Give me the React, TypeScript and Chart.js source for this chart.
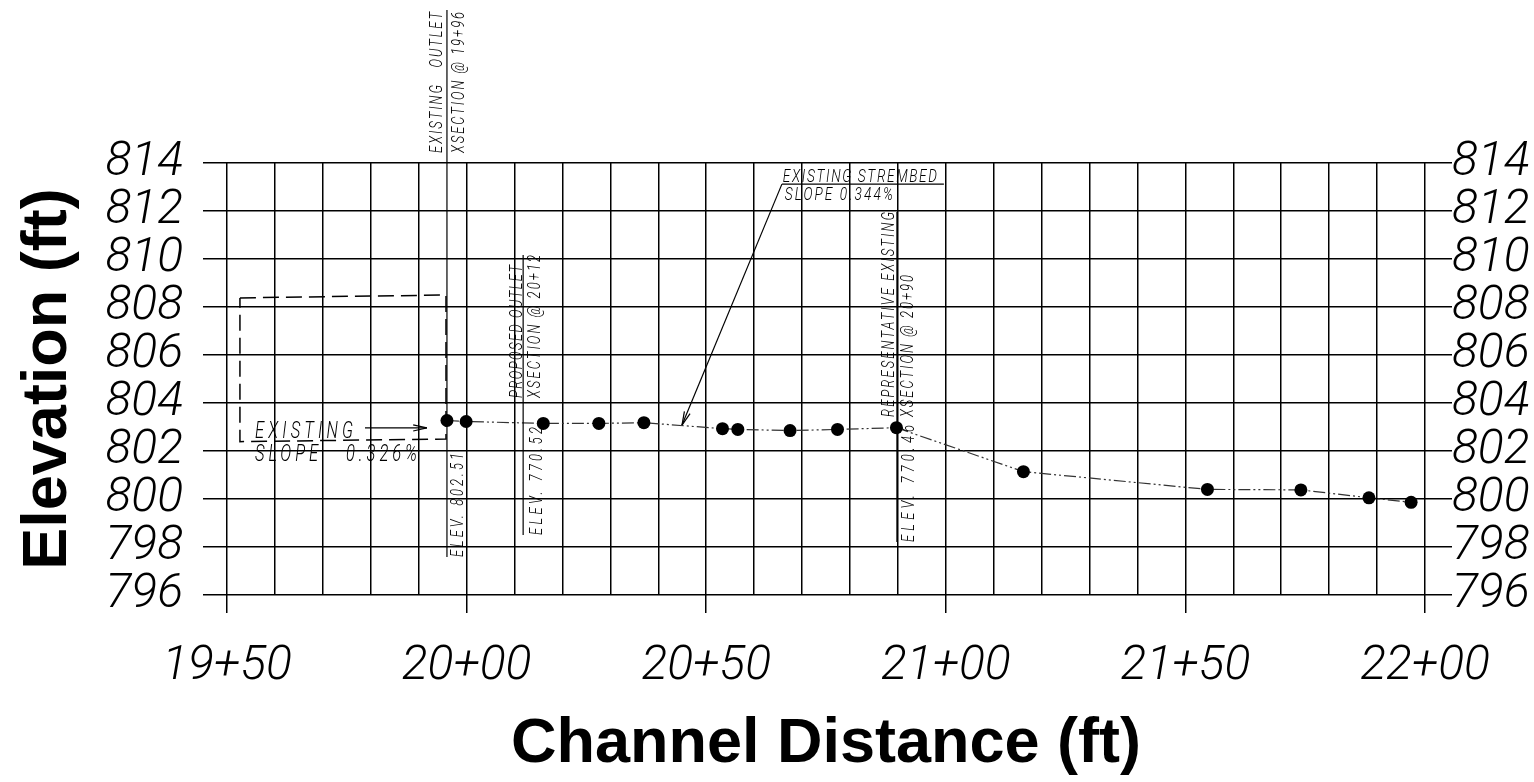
import { useEffect, useRef } from "react";
import { Chart, registerables } from "chart.js";

Chart.register(...registerables);

// ---- data (stations in ft, elevations in ft) ----
const stations = [1995.9, 1999.9, 2016.0, 2027.6, 2037.0, 2053.4, 2056.6, 2067.5, 2077.4, 2089.7, 2116.2, 2154.6, 2174.1, 2188.3, 2197.1];
const elevations = [803.27, 803.23, 803.15, 803.15, 803.18, 802.93, 802.9, 802.85, 802.9, 802.97, 801.14, 800.4, 800.38, 800.05, 799.86];

const boxStations = [1952.7, 1995.7, 1995.7, 1952.7, 1952.7];
const boxElevations = [808.38, 808.5, 802.5, 802.39, 808.38];

const xTickValues = [1950, 2000, 2050, 2100, 2150, 2200];
const xTickLabels = ["19+50", "20+00", "20+50", "21+00", "21+50", "22+00"];
const yTickValues = [796, 798, 800, 802, 804, 806, 808, 810, 812, 814];
const yTickLabels = ["796", "798", "800", "802", "804", "806", "808", "810", "812", "814"];

// ---- annotation callouts (anchored in data units) ----
const sectionCallouts = [
  { station: 1995.9, top: 820.38, bottom: 797.58, textFrom: 814.42, left: "EXISTING   OUTLET", leftLen: 141, leftDx: -5, right: "XSECTION @ 19+96", rightLen: 141, rightDx: 17, elev: "ELEV. 802.51", elevLen: 104, elevDx: 16 },
  { station: 2011.8, top: 810.17, bottom: 798.5, textFrom: 804.21, left: "PROPOSED OUTLET", leftLen: 133, leftDx: -1, right: "XSECTION @ 20+12", rightLen: 143, rightDx: 17, elev: "ELEV. 770.52", elevLen: 108, elevDx: 19 },
  { station: 2089.8, top: 811.96, bottom: 798.21, textFrom: 803.42, left: "REPRESENTATIVE EXISTING", leftLen: 205, leftDx: -3, right: "XSECTION @ 20+90", rightLen: 142, rightDx: 16, elev: "ELEV. 770.46", elevLen: 117, elevDx: 17 },
];

const strembedNote = {
  line1: "EXISTING STREMBED", line1X: 2066.0, line1Y: 813.21, line1Len: 154,
  line2: "SLOPE 0.344%", line2X: 2066.4, line2Y: 812.46, line2Len: 108,
  underFrom: 2065.8, underTo: 2099.6, underY: 813.12,
  tipX: 2044.95, tipY: 803.08,
};

const slopeNote = {
  line1: "EXISTING", line1Len: 98, textX: 1955.84, line1Y: 802.54,
  line2: "SLOPE   0.326%", line2Len: 162, line2Y: 801.58,
  arrowFrom: 1978.8, arrowTo: 1991.7, arrowY: 802.96,
};

const NARROW = 0.72;

function cadText(ctx: CanvasRenderingContext2D, text: string, x: number, y: number, size: number, len: number, rotate: boolean) {
  ctx.save();
  ctx.translate(x, y);
  if (rotate) ctx.rotate(-Math.PI / 2);
  ctx.scale(NARROW, 1);
  ctx.font = `italic 300 ${size}px Roboto, "DejaVu Sans", sans-serif`;
  (ctx as any).letterSpacing = "0px";
  const w = ctx.measureText(text).width;
  const n = Math.max(1, text.length - 1);
  const ls = (len / NARROW - w) / n;
  (ctx as any).letterSpacing = `${ls}px`;
  ctx.textAlign = "left";
  ctx.textBaseline = "alphabetic";
  ctx.fillStyle = "#000";
  ctx.fillText(text, 0, 0);
  ctx.restore();
}

function seg(ctx: CanvasRenderingContext2D, x1: number, y1: number, x2: number, y2: number) {
  ctx.beginPath();
  ctx.moveTo(x1, y1);
  ctx.lineTo(x2, y2);
  ctx.stroke();
}

function arrowHead(ctx: CanvasRenderingContext2D, fx: number, fy: number, tx: number, ty: number, size: number) {
  const a = Math.atan2(ty - fy, tx - fx);
  const spread = 0.22;
  seg(ctx, tx, ty, tx - size * Math.cos(a - spread), ty - size * Math.sin(a - spread));
  seg(ctx, tx, ty, tx - size * Math.cos(a + spread), ty - size * Math.sin(a + spread));
}

const notesPlugin = {
  id: "cadNotes",
  afterDatasetsDraw(chart: any) {
    const ctx: CanvasRenderingContext2D = chart.ctx;
    const xs = chart.scales.x;
    const ys = chart.scales.y;
    const X = (v: number) => xs.getPixelForValue(v);
    const Y = (v: number) => ys.getPixelForValue(v);
    ctx.save();
    ctx.strokeStyle = "#000";
    ctx.lineWidth = 1.2;
    for (const c of sectionCallouts) {
      const x = X(c.station);
      seg(ctx, x, Y(c.top), x, Y(c.bottom));
      cadText(ctx, c.left, x + c.leftDx, Y(c.textFrom), 18, c.leftLen, true);
      cadText(ctx, c.right, x + c.rightDx, Y(c.textFrom), 18, c.rightLen, true);
      cadText(ctx, c.elev, x + c.elevDx, Y(c.bottom), 18, c.elevLen, true);
    }
    // streambed note
    const s = strembedNote;
    cadText(ctx, s.line1, X(s.line1X), Y(s.line1Y), 19, s.line1Len, false);
    cadText(ctx, s.line2, X(s.line2X), Y(s.line2Y), 19, s.line2Len, false);
    seg(ctx, X(s.underFrom), Y(s.underY), X(s.underTo), Y(s.underY));
    seg(ctx, X(s.underFrom), Y(s.underY), X(s.tipX), Y(s.tipY));
    arrowHead(ctx, X(s.underFrom), Y(s.underY), X(s.tipX), Y(s.tipY), 14);
    // existing slope note
    const e = slopeNote;
    cadText(ctx, e.line1, X(e.textX), Y(e.line1Y), 23, e.line1Len, false);
    cadText(ctx, e.line2, X(e.textX), Y(e.line2Y), 23, e.line2Len, false);
    seg(ctx, X(e.arrowFrom), Y(e.arrowY), X(e.arrowTo), Y(e.arrowY));
    arrowHead(ctx, X(e.arrowFrom), Y(e.arrowY), X(e.arrowTo), Y(e.arrowY), 14);
    ctx.restore();
  },
};

const tickFont = { family: "Roboto", size: 48, style: "italic" as const, weight: 300 as any };
const titleFont = { family: "'Liberation Sans', Arial, sans-serif", size: 63, weight: "bold" as const };

const yTickCallback = (v: any) => {
  const i = yTickValues.indexOf(Number(v));
  return i >= 0 ? yTickLabels[i] : "";
};

export default function App() {
  const canvasRef = useRef<HTMLCanvasElement | null>(null);

  useEffect(() => {
    if (!canvasRef.current) return;
    const chart = new Chart(canvasRef.current, {
      type: "scatter",
      data: {
        datasets: [
          {
            label: "Existing streambed",
            data: stations.map((x, i) => ({ x, y: elevations[i] })),
            showLine: true,
            borderColor: "#333",
            borderWidth: 1.2,
            borderDash: [12, 3, 2, 3, 2, 3],
            pointRadius: 6.5,
            pointBackgroundColor: "#000",
            pointBorderWidth: 0,
          },
          {
            label: "Existing outlet",
            data: boxStations.map((x, i) => ({ x, y: boxElevations[i] })),
            showLine: true,
            borderColor: "#000",
            borderWidth: 1.5,
            borderDash: [16, 7],
            pointRadius: 0,
          },
        ],
      },
      options: {
        animation: false,
        responsive: true,
        maintainAspectRatio: false,
        layout: { padding: { top: 163, left: 0, right: 0, bottom: 0 } },
        plugins: { legend: { display: false }, tooltip: { enabled: false } },
        scales: {
          x: {
            type: "linear",
            position: "bottom",
            min: 1950,
            max: 2200,
            border: { display: false },
            grid: {
              color: "#000",
              lineWidth: 1.5,
              tickLength: 18,
              tickWidth: 1.5,
              tickColor: (c: any) => (xTickValues.includes(c.tick?.value) ? "#000" : "rgba(0,0,0,0)"),
            },
            ticks: {
              stepSize: 10,
              autoSkip: false,
              maxRotation: 0,
              padding: 25,
              color: "#000",
              font: tickFont,
              callback: (v: any) => {
                const i = xTickValues.indexOf(Number(v));
                return i >= 0 ? xTickLabels[i] : "";
              },
            },
            title: {
              display: true,
              text: "Channel Distance (ft)",
              color: "#000",
              font: titleFont,
              padding: { top: 0, bottom: 0 },
            },
            afterFit: (scale: any) => {
              scale.height = 187;
            },
          },
          y: {
            type: "linear",
            position: "left",
            min: 796,
            max: 814,
            border: { display: false },
            grid: { color: "#000", lineWidth: 1.5, tickLength: 24 },
            ticks: {
              stepSize: 2,
              autoSkip: false,
              padding: 20,
              color: "#000",
              font: tickFont,
              callback: yTickCallback,
            },
            title: {
              display: true,
              text: "Elevation (ft)",
              color: "#000",
              font: titleFont,
              padding: { top: 11, bottom: 0 },
            },
            afterFit: (scale: any) => {
              scale.width = 227;
            },
          },
          y2: {
            type: "linear",
            position: "right",
            min: 796,
            max: 814,
            border: { display: false },
            grid: { color: "#000", lineWidth: 1.5, tickLength: 27, drawOnChartArea: false },
            ticks: {
              stepSize: 2,
              autoSkip: false,
              padding: 0,
              color: "#000",
              font: tickFont,
              callback: yTickCallback,
            },
            afterFit: (scale: any) => {
              scale.width = 109;
            },
          },
        },
      },
      plugins: [notesPlugin],
    } as any);
    return () => chart.destroy();
  }, []);

  return (
    <div style={{ position: "fixed", left: 0, top: 0, width: "1534px", height: "782px", background: "#fff" }}>
      <canvas ref={canvasRef} />
    </div>
  );
}
